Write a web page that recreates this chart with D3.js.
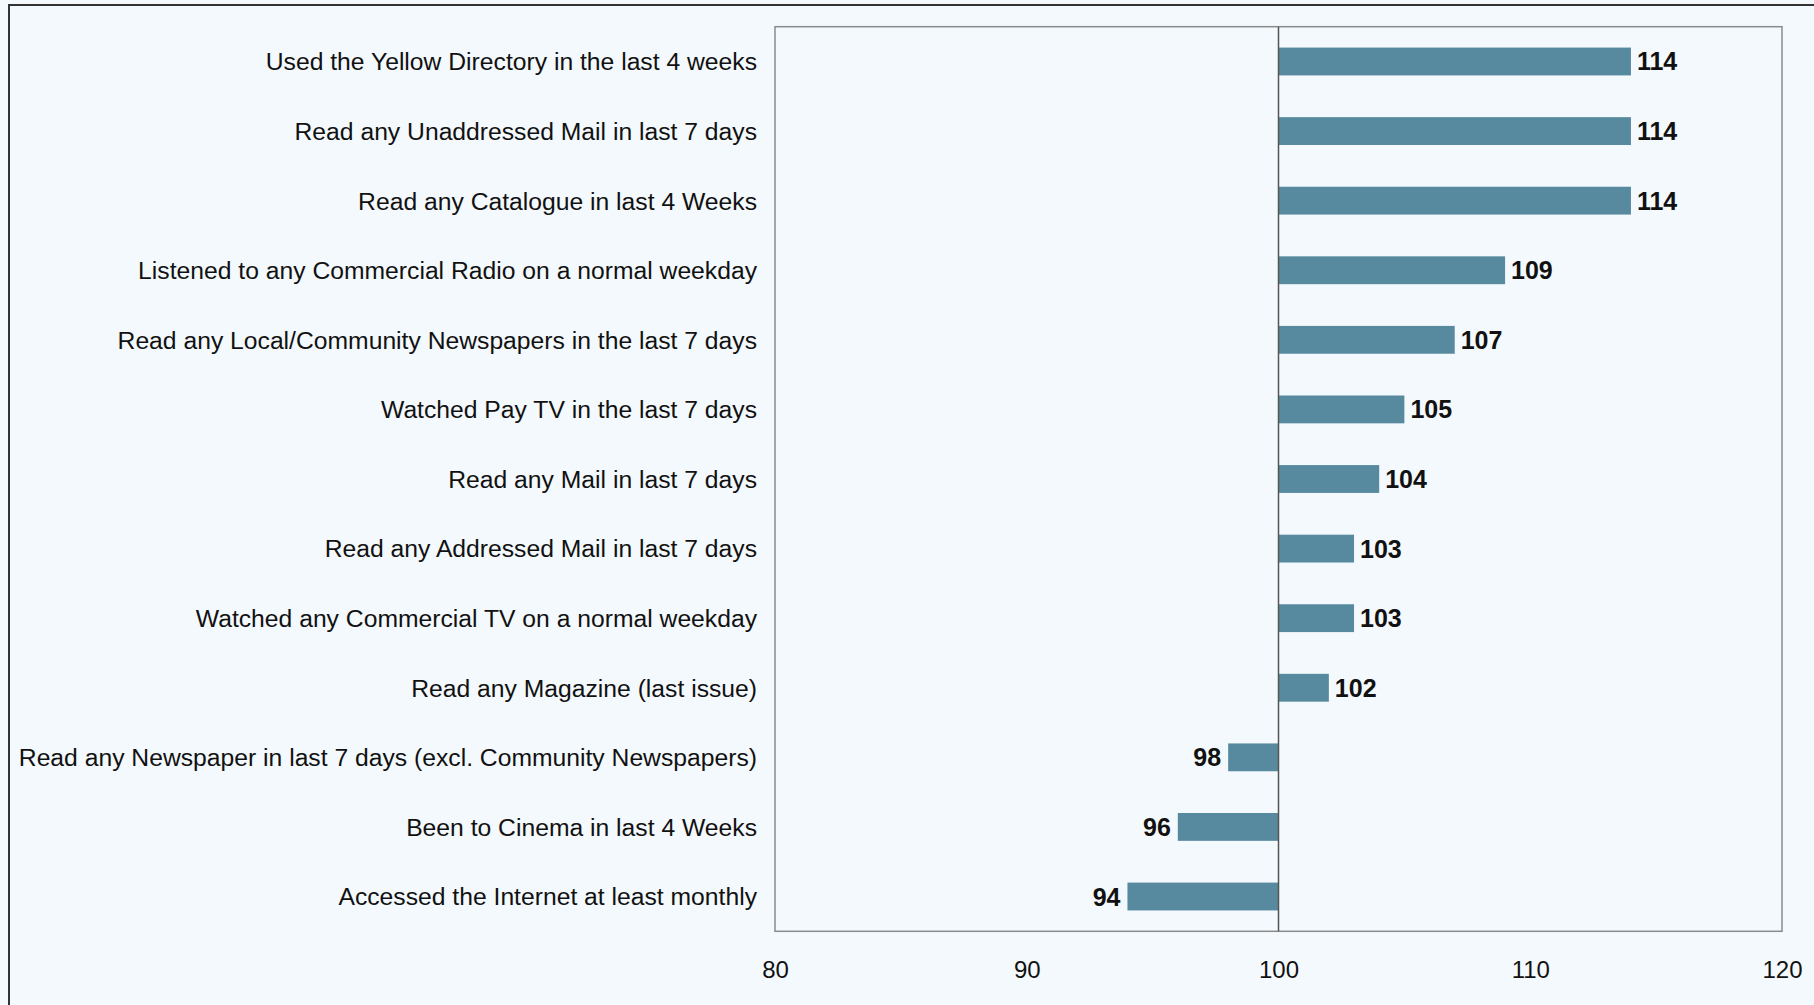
<!DOCTYPE html>
<html>
<head>
<meta charset="utf-8">
<script src="https://cdn.jsdelivr.net/npm/d3@7"></script>
<style>
  html, body { margin: 0; padding: 0; background: #f4f9fd; }
  svg { display: block; }
  svg text { font-family: "Liberation Sans", Arial, Helvetica, sans-serif; fill: #111; }
</style>
</head>
<body>
<svg id="chart" width="1814" height="1005"></svg>
<script>
// Index vs. population average (100) for each media activity
const categories = [
  "Used the Yellow Directory in the last 4 weeks",
  "Read any Unaddressed Mail in last 7 days",
  "Read any Catalogue in last 4 Weeks",
  "Listened to any Commercial Radio on a normal weekday",
  "Read any Local/Community Newspapers in the last 7 days",
  "Watched Pay TV in the last 7 days",
  "Read any Mail in last 7 days",
  "Read any Addressed Mail in last 7 days",
  "Watched any Commercial TV on a normal weekday",
  "Read any Magazine (last issue)",
  "Read any Newspaper in last 7 days (excl. Community Newspapers)",
  "Been to Cinema in last 4 Weeks",
  "Accessed the Internet at least monthly"
];
const indexValues = [114, 114, 114, 109, 107, 105, 104, 103, 103, 102, 98, 96, 94];
const baseline = 100;
const xTicks = [80, 90, 100, 110, 120];

const W = 1814, H = 1005;
const plot = { left: 775, right: 1782, top: 26.7, bottom: 931.3 };

const svg = d3.select("#chart");

svg.append("rect").attr("width", W).attr("height", H).attr("fill", "#f4f9fd");

// outer frame
svg.append("rect")
  .attr("x", 9).attr("y", 5)
  .attr("width", W + 20).attr("height", H + 20)
  .attr("fill", "none").attr("stroke", "#333").attr("stroke-width", 2);

const x = d3.scaleLinear().domain([80, 120]).range([plot.left, plot.right]);
const y = d3.scaleBand().domain(categories).range([plot.top, plot.bottom]).padding(0);
const barH = y.bandwidth() * 0.4;

// plot area border
svg.append("rect")
  .attr("x", plot.left).attr("y", plot.top)
  .attr("width", plot.right - plot.left).attr("height", plot.bottom - plot.top)
  .attr("fill", "none").attr("stroke", "#8a8a8a").attr("stroke-width", 1.5);

// bars from the baseline
svg.append("g").selectAll("rect")
  .data(categories)
  .join("rect")
  .attr("x", (d, i) => x(Math.min(indexValues[i], baseline)))
  .attr("y", d => y(d) + (y.bandwidth() - barH) / 2)
  .attr("width", (d, i) => Math.abs(x(indexValues[i]) - x(baseline)))
  .attr("height", barH)
  .attr("fill", "#578a9e");

// baseline at 100
svg.append("line")
  .attr("x1", x(baseline)).attr("x2", x(baseline))
  .attr("y1", plot.top).attr("y2", plot.bottom)
  .attr("stroke", "#555").attr("stroke-width", 1.5);

// value labels
svg.append("g").selectAll("text")
  .data(categories)
  .join("text")
  .attr("x", (d, i) => indexValues[i] >= baseline ? x(indexValues[i]) + 6 : x(indexValues[i]) - 7)
  .attr("y", d => y(d) + y.bandwidth() / 2)
  .attr("dy", "0.36em")
  .attr("text-anchor", (d, i) => indexValues[i] >= baseline ? "start" : "end")
  .attr("font-size", 25).attr("font-weight", "bold")
  .text((d, i) => indexValues[i]);

// category axis labels
const yAxis = d3.axisLeft(y).tickSize(0).tickPadding(18);
const gy = svg.append("g").attr("transform", `translate(${plot.left},1)`).call(yAxis);
gy.attr("font-family", null);
gy.select(".domain").remove();
gy.selectAll("text")
  .attr("font-size", 24.7).attr("fill", "#111");

// value axis labels
const xAxis = d3.axisBottom(x).tickValues(xTicks).tickSize(0).tickPadding(30).tickFormat(d3.format("d"));
const gx = svg.append("g").attr("transform", `translate(0,${plot.bottom})`).call(xAxis);
gx.attr("font-family", null);
gx.select(".domain").remove();
gx.selectAll("text")
  .attr("font-size", 24).attr("fill", "#111");
</script>
</body>
</html>
